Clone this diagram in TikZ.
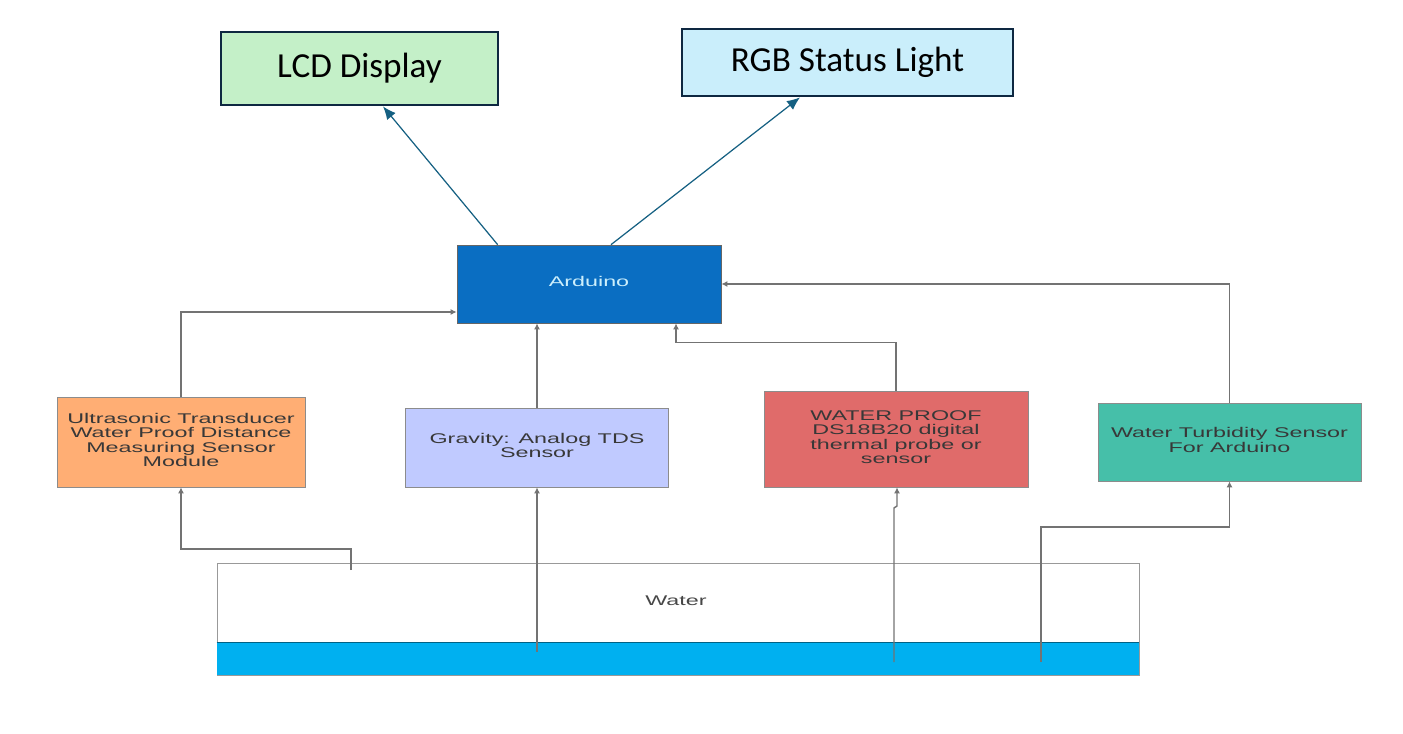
\documentclass[tikz,border=0pt]{standalone}
\usepackage{fontspec}
\setmainfont{Liberation Sans}
\newfontfamily\officefont{Carlito}
\usepackage{graphicx}
\usetikzlibrary{arrows.meta}

\definecolor{lcdgreen}{HTML}{C4F0C8}
\definecolor{rgbblue}{HTML}{CAEEFB}
\definecolor{navyline}{HTML}{0E2841}
\definecolor{tealarrow}{HTML}{156082}
\definecolor{ardblue}{HTML}{0A6EC2}
\definecolor{peach}{HTML}{FFAE74}
\definecolor{lavender}{HTML}{C0CAFF}
\definecolor{salmon}{HTML}{E06B6A}
\definecolor{turbteal}{HTML}{46BFA9}
\definecolor{waterblue}{HTML}{00B0F0}

% wide sans text, as in the stretched drawing
\newcommand{\widetext}[1]{\scalebox{1.66}[1]{\fontsize{8}{8.2}\selectfont\begin{tabular}{@{}c@{}}#1\end{tabular}}}

\begin{document}
\begin{tikzpicture}
      \tikzset{
	  display/.style={rectangle,draw=navyline,line width=1.6pt,inner sep=0pt,text centered,font=\officefont\fontsize{20}{24}\selectfont},
	  board/.style={rectangle,draw=black!60,fill=ardblue,inner sep=0pt,text=white!80!cyan},
	  sensor/.style={rectangle,draw=black!45,thin,inner sep=0pt,text=black!78},
	  link/.style={draw=tealarrow,line width=0.7pt,-{Latex[length=2.6mm,width=2.2mm]}},
	  wire/.style={draw=black!55,line width=0.8pt,-{Latex[length=1.2mm,width=1.2mm]}},
	  probe/.style={draw=black!70,line width=0.9pt}
      }

      \useasboundingbox (0,0) rectangle (28.06,14.66);

      % outputs
      \node [display,fill=lcdgreen,minimum width=5.54cm,minimum height=1.46cm] (lcd) at (7.19,13.29) {LCD Display};
      \node [display,fill=rgbblue,minimum width=6.62cm,minimum height=1.34cm] (rgb) at (16.95,13.41) {RGB Status Light};

      % controller
      \node [board,minimum width=5.28cm,minimum height=1.56cm] (arduino) at (11.78,8.98) {\widetext{Arduino}};

      % sensors
      \node [sensor,fill=peach,minimum width=4.96cm,minimum height=1.80cm] (ultra) at (3.62,5.82) {\widetext{Ultrasonic Transducer\\Water Proof Distance\\Measuring Sensor\\Module}};
      \node [sensor,fill=lavender,minimum width=5.26cm,minimum height=1.58cm] (tds) at (10.74,5.71) {\widetext{Gravity: Analog TDS\\Sensor}};
      \node [sensor,fill=salmon,minimum width=5.28cm,minimum height=1.92cm] (temp) at (17.92,5.88) {\widetext{WATER PROOF\\DS18B20 digital\\thermal probe or\\sensor}};
      \node [sensor,fill=turbteal,minimum width=5.26cm,minimum height=1.56cm] (turb) at (24.59,5.82) {\widetext{Water Turbidity Sensor\\For Arduino}};

      % tank
      \node [draw=black!40,thin,minimum width=18.44cm,minimum height=2.24cm,inner sep=0pt] (tank) at (13.56,2.28) {};
      \fill [waterblue] (tank.south west) rectangle ([yshift=0.66cm]tank.south east);
      \draw [black!45!waterblue,thin] ([yshift=0.66cm]tank.south west) -- ([yshift=0.66cm]tank.south east);
      \node [text=black!72] (water) at (13.52,2.60) {\widetext{Water}};

      \coordinate (usend) at (7.02,3.26);
      \coordinate (tdsend) at (10.74,1.62);
      \coordinate (tempend) at (17.88,1.42);
      \coordinate (turbend) at (20.82,1.42);

      % arduino to outputs
      \draw [link] ([xshift=0.82cm]arduino.north west) -- ([xshift=0.47cm]lcd.south);
      \draw [link] ([xshift=0.44cm]arduino.north) -- ([xshift=-0.95cm]rgb.south);

      % sensors to arduino
      \draw [wire] (ultra.north) |- ([yshift=-0.56cm]arduino.west);
      \draw [wire] (tds.north) -- (tds.north |- arduino.south);
      \draw [wire] (temp.north) -- ++(0,0.96) -| ([xshift=1.74cm]arduino.south);
      \draw [wire] (turb.north) |- (arduino.east);

      % water to sensors
      \draw [wire] (usend) -- ++(0,0.42) -| (ultra.south);
      \draw [probe,wire] (tdsend) -- (tdsend |- tds.south);
      \draw [probe,wire] (tempend) -- ++(0,3.08) -- ++(0.06,0.04) -- ([xshift=0.02cm]temp.south);
      \draw [probe,wire] (turbend) -- ++(0,2.70) -| (turb.south);
\end{tikzpicture}
\end{document}
